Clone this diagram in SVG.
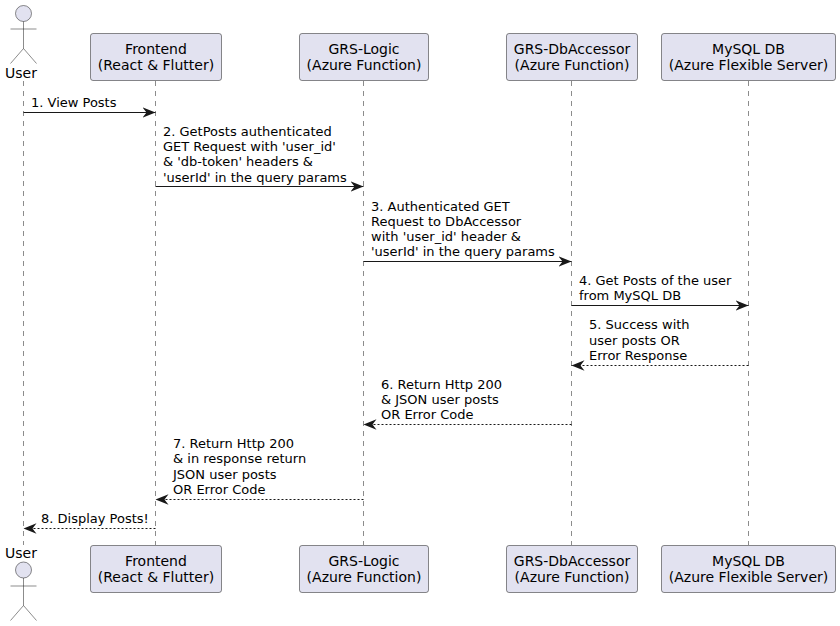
<svg xmlns="http://www.w3.org/2000/svg" width="840" height="626" viewBox="0 0 840 626">
<style>
text{font-family:"DejaVu Sans",sans-serif;fill:#000}
.p{font-size:14px;text-anchor:middle}
.m{font-size:13px}
.box{fill:#E2E2F0;stroke:#181818;stroke-width:.5}
.act{fill:none;stroke:#181818;stroke-width:.5}
.head{fill:#E2E2F0;stroke:#181818;stroke-width:.5}
.life{stroke:#181818;stroke-width:.5;stroke-dasharray:5 5;fill:none}
.msg{stroke:#181818;stroke-width:1;fill:none}
.ret{stroke-dasharray:2 2}
</style>
<defs>
<marker id="ah" markerUnits="userSpaceOnUse" markerWidth="15" markerHeight="12" refX="13" refY="6" orient="auto">
<path d="M0 .8 L13 6 L0 11.200 L4 6 Z" fill="#181818"/>
</marker>
</defs>
<g id="connectors">
<path class="life" d="M23.5 81V545"/>
<path class="life" d="M155.5 81V545"/>
<path class="life" d="M363.5 81V545"/>
<path class="life" d="M571.5 81V545"/>
<path class="life" d="M748.5 81V545"/>
<path class="msg" marker-end="url(#ah)" d="M23.5 112.500H155.500"/>
<path class="msg" marker-end="url(#ah)" d="M155.500 186.500H363.500"/>
<path class="msg" marker-end="url(#ah)" d="M363.500 261.500H571.500"/>
<path class="msg" marker-end="url(#ah)" d="M571.500 305.500H748.500"/>
<path class="msg ret" marker-end="url(#ah)" d="M748.500 365.500H571.500"/>
<path class="msg ret" marker-end="url(#ah)" d="M571.500 424.500H363.500"/>
<path class="msg ret" marker-end="url(#ah)" d="M363.500 499.500H155.500"/>
<path class="msg ret" marker-end="url(#ah)" d="M155.500 528.500H23.500"/>
</g>
<g id="msg-labels">
<text class="m" x="31" y="107">1. View Posts</text>
<text class="m" x="163" y="136">2. GetPosts authenticated</text>
<text class="m" x="163" y="151">GET Request with 'user_id'</text>
<text class="m" x="163" y="166">&amp; 'db-token' headers &amp;</text>
<text class="m" x="163" y="182">'userId' in the query params</text>
<text class="m" x="371" y="211">3. Authenticated GET</text>
<text class="m" x="371" y="226">Request to DbAccessor</text>
<text class="m" x="371" y="241">with 'user_id' header &amp;</text>
<text class="m" x="371" y="256">'userId' in the query params</text>
<text class="m" x="579" y="285">4. Get Posts of the user</text>
<text class="m" x="579" y="300">from MySQL DB</text>
<text class="m" x="589" y="329">5. Success with</text>
<text class="m" x="589" y="345">user posts OR</text>
<text class="m" x="589" y="360">Error Response</text>
<text class="m" x="381" y="389">6. Return Http 200</text>
<text class="m" x="381" y="404">&amp; JSON user posts</text>
<text class="m" x="381" y="419">OR Error Code</text>
<text class="m" x="173" y="448">7. Return Http 200</text>
<text class="m" x="173" y="463">&amp; in response return</text>
<text class="m" x="173" y="479">JSON user posts</text>
<text class="m" x="173" y="494">OR Error Code</text>
<text class="m" x="41" y="523">8. Display Posts!</text>
</g>
<g id="user-top">
<circle class="head" cx="23.500" cy="13.500" r="8"/>
<path class="act" d="M23.500 21.500V48.500M10.500 29H36.500M23.500 48.500L10.500 63.500M23.500 48.500L36.500 63.500"/>
<text class="p" x="21" y="78">User</text>
</g>
<g id="user-bottom">
<text class="p" x="21" y="558">User</text>
<circle class="head" cx="23.500" cy="570" r="8"/>
<path class="act" d="M23.500 578V605.500M10.500 586H36.500M23.500 605.500L10.500 620.500M23.500 605.500L36.500 620.500"/>
</g>
<g id="frontend-top">
<rect class="box" x="90.500" y="33.500" width="131" height="47" rx="2.500"/>
<text class="p" x="156" y="54">Frontend</text><text class="p" x="156" y="70">(React &amp; Flutter)</text>
</g>
<g id="logic-top">
<rect class="box" x="299.500" y="33.500" width="129" height="47" rx="2.500"/>
<text class="p" x="364" y="54">GRS-Logic</text><text class="p" x="364" y="70">(Azure Function)</text>
</g>
<g id="db-accessor-top">
<rect class="box" x="506.500" y="33.500" width="131" height="47" rx="2.500"/>
<text class="p" x="572" y="54">GRS-DbAccessor</text><text class="p" x="572" y="70">(Azure Function)</text>
</g>
<g id="mysql-top">
<rect class="box" x="661.500" y="33.500" width="174" height="47" rx="2.500"/>
<text class="p" x="748.500" y="54">MySQL DB</text><text class="p" x="748.500" y="70">(Azure Flexible Server)</text>
</g>
<g id="frontend-bottom">
<rect class="box" x="90.500" y="545.500" width="131" height="47" rx="2.500"/>
<text class="p" x="156" y="566">Frontend</text><text class="p" x="156" y="582">(React &amp; Flutter)</text>
</g>
<g id="logic-bottom">
<rect class="box" x="299.500" y="545.500" width="129" height="47" rx="2.500"/>
<text class="p" x="364" y="566">GRS-Logic</text><text class="p" x="364" y="582">(Azure Function)</text>
</g>
<g id="db-accessor-bottom">
<rect class="box" x="506.500" y="545.500" width="131" height="47" rx="2.500"/>
<text class="p" x="572" y="566">GRS-DbAccessor</text><text class="p" x="572" y="582">(Azure Function)</text>
</g>
<g id="mysql-bottom">
<rect class="box" x="661.500" y="545.500" width="174" height="47" rx="2.500"/>
<text class="p" x="748.500" y="566">MySQL DB</text><text class="p" x="748.500" y="582">(Azure Flexible Server)</text>
</g>
</svg>
